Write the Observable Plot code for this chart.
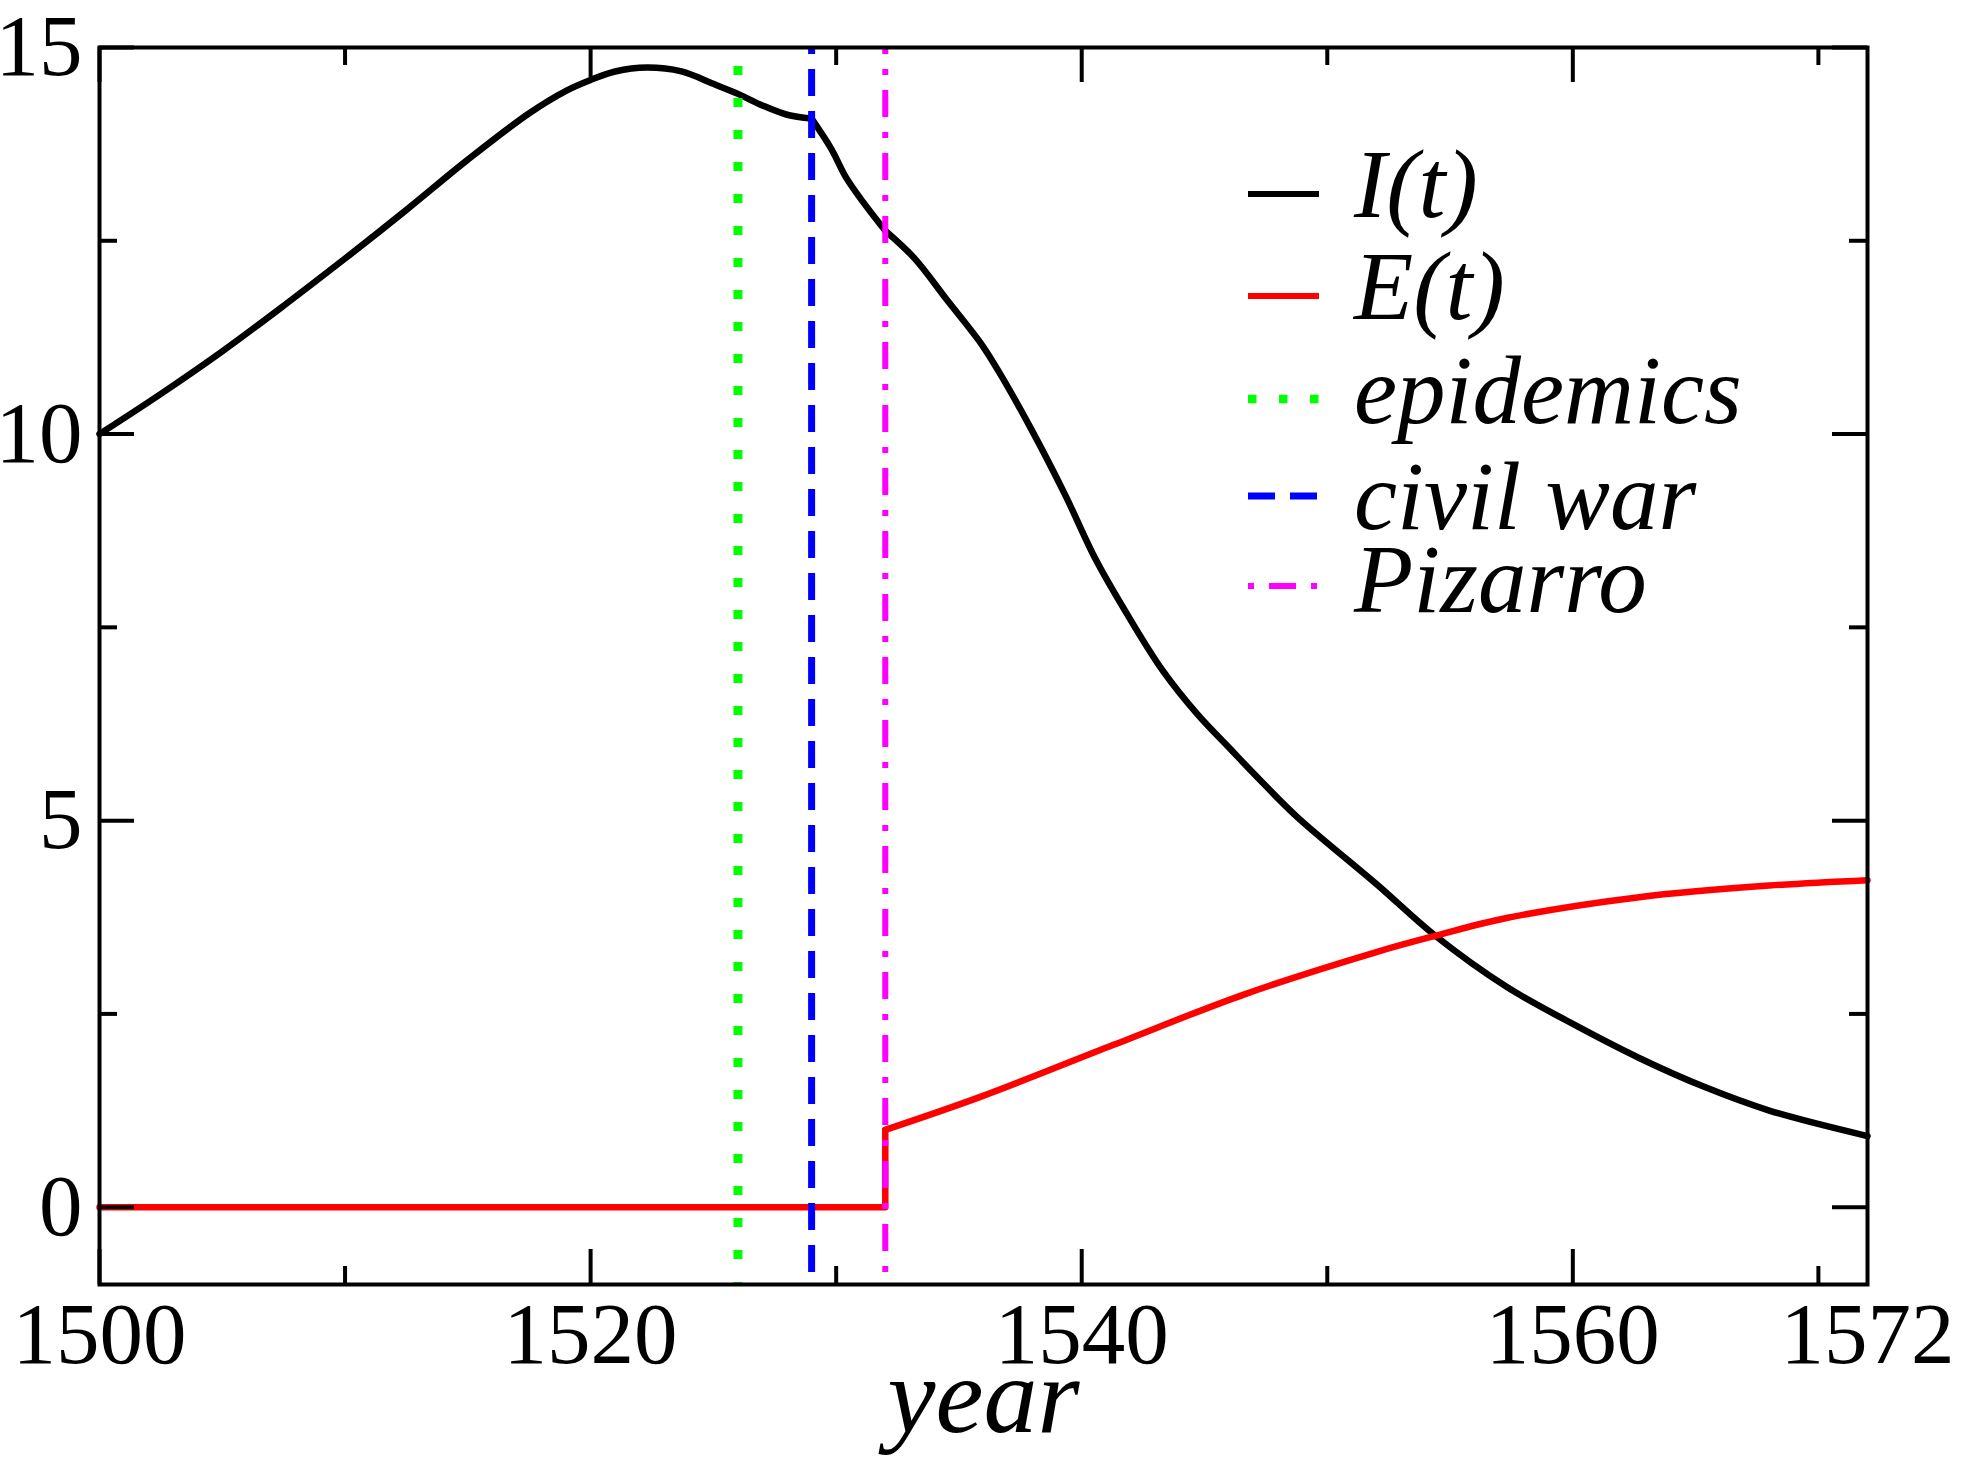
<!DOCTYPE html>
<html>
<head>
<meta charset="utf-8">
<script src="https://cdn.jsdelivr.net/npm/d3@7"></script>
<script src="https://cdn.jsdelivr.net/npm/@observablehq/plot@0.6"></script>
<style>
  body { margin: 0; background: white; }
</style>
</head>
<body>
<div id="chart"></div>
<script>
// I(t)
const iYears = [1500, 1502.5, 1505, 1507.5, 1510, 1512.5, 1515, 1517.5, 1519, 1520, 1521, 1522.3, 1523.7, 1525, 1526, 1527, 1528, 1529, 1529.8, 1530.4, 1531.1, 1532, 1533.2, 1534.5, 1535.9, 1536.6, 1537.9, 1539.3, 1540.6, 1542, 1543.3, 1544.7, 1546.1, 1547.4, 1548.8, 1552, 1554.4, 1557.3, 1560, 1562.7, 1565.4, 1568, 1572]
const iValues = [10.0, 10.52, 11.07, 11.66, 12.27, 12.90, 13.55, 14.15, 14.44, 14.58, 14.69, 14.74, 14.69, 14.53, 14.40, 14.25, 14.13, 14.08, 13.69, 13.32, 13.00, 12.63, 12.27, 11.74, 11.17, 10.82, 10.09, 9.23, 8.36, 7.59, 6.94, 6.38, 5.91, 5.48, 5.04, 4.18, 3.51, 2.85, 2.37, 1.93, 1.55, 1.25, 0.92]

// E(t): cero hasta 1532, salto y subida
const eYears = [1500, 1532, 1532, 1535.9, 1541.3, 1546.6, 1552, 1554.4, 1557.3, 1562.7, 1568, 1572]
const eValues = [0, 0, 1.0, 1.43, 2.10, 2.75, 3.30, 3.51, 3.74, 4.01, 4.16, 4.23]

// eventos (lineas verticales)
const eventNames = ['epidemics', 'civil war', 'Pizarro']
const eventYears = [1526, 1529, 1532]

// ticks
const xMajor = [1500, 1520, 1540, 1560]
const xMinor = [1510, 1530, 1550, 1570]
const xLabels = [1500, 1520, 1540, 1560, 1572]
const yMajor = [0, 5, 10, 15]
const yMinor = [2.5, 7.5, 12.5]

const legendNames = ['I(t)', 'E(t)', 'epidemics', 'civil war', 'Pizarro']

// estilos
const eventStyle = {
  'epidemics': {stroke: '#00ff00', strokeWidth: 9, dash: '9,23', offset: 13, legendDash: '8.5,22.5'},
  'civil war': {stroke: '#0000ff', strokeWidth: 7, dash: '27,15', offset: 20, legendDash: '27,15'},
  'Pizarro': {stroke: '#ff00ff', strokeWidth: 6, dash: '27,15,6,15', offset: 20, legendDash: '6,15,27,15'},
}
const legendStyle = {
  'I(t)': {stroke: 'black', strokeWidth: 6, dash: null, lineY: 194, textY: 217},
  'E(t)': {stroke: '#ff0000', strokeWidth: 6, dash: null, lineY: 296, textY: 319},
  'epidemics': {stroke: '#00ff00', strokeWidth: 8.5, dash: eventStyle['epidemics'].legendDash, lineY: 399, textY: 423},
  'civil war': {stroke: '#0000ff', strokeWidth: 7, dash: eventStyle['civil war'].legendDash, lineY: 496, textY: 529},
  'Pizarro': {stroke: '#ff00ff', strokeWidth: 6, dash: eventStyle['Pizarro'].legendDash, lineY: 586, textY: 612},
}

const iRows = iYears.map((year, i) => ({year, value: iValues[i]}))
// la curva I(t) tiene quiebres en la guerra civil y en la llegada de Pizarro
const [kink1, kink2] = [eventYears[1], eventYears[2]]
const iSeg1 = iRows.filter(d => d.year <= kink1)
const iSeg2 = iRows.filter(d => d.year >= kink1 && d.year <= kink2)
const iSeg3 = iRows.filter(d => d.year >= kink2)

const eRows = eYears.map((year, i) => ({year, value: eValues[i]}))
const eStep = eRows.slice(0, 3)
const eRise = eRows.slice(2)

const W = 1964, H = 1465
const mL = 99, mR = 97, mT = 47, mB = 181
const frameW = W - mL - mR
const frameH = H - mT - mB
const major = 35, minor = 18

const eventMarks = eventNames.map((name, i) => {
  const s = eventStyle[name]
  return Plot.ruleX([eventYears[i]], {
    x: d => d,
    stroke: s.stroke,
    strokeWidth: s.strokeWidth,
    strokeDasharray: s.dash,
    strokeDashoffset: s.offset,
  })
})

const tickStyle = {stroke: 'black', strokeWidth: 4}
const iStyle = {x: 'year', y: 'value', stroke: 'black', strokeWidth: 6.5, curve: 'catmull-rom'}

let chart = Plot.plot({
  width: W,
  height: H,
  marginLeft: mL,
  marginRight: mR,
  marginTop: mT,
  marginBottom: mB,
  style: {fontFamily: 'Liberation Serif', background: 'white', overflow: 'visible'},
  x: {domain: [1500, 1572], axis: null},
  y: {domain: [-1, 15], axis: null},
  marks: [
    Plot.line(iSeg1, iStyle),
    Plot.line(iSeg2, iStyle),
    Plot.line(iSeg3, iStyle),
    Plot.line(eStep, {x: 'year', y: 'value', stroke: '#ff0000', strokeWidth: 6.5}),
    Plot.line(eRise, {x: 'year', y: 'value', stroke: '#ff0000', strokeWidth: 6.5, curve: 'catmull-rom'}),
    ...eventMarks,
    Plot.frame({stroke: 'black', strokeWidth: 4}),
    // ticks hacia adentro, en los cuatro lados
    Plot.tickX(xMajor, {x: d => d, ...tickStyle, insetTop: frameH - major}),
    Plot.tickX(xMajor, {x: d => d, ...tickStyle, insetBottom: frameH - major}),
    Plot.tickX(xMinor, {x: d => d, ...tickStyle, insetTop: frameH - minor}),
    Plot.tickX(xMinor, {x: d => d, ...tickStyle, insetBottom: frameH - minor}),
    Plot.tickY(yMajor, {y: d => d, ...tickStyle, insetRight: frameW - major}),
    Plot.tickY(yMajor, {y: d => d, ...tickStyle, insetLeft: frameW - major}),
    Plot.tickY(yMinor, {y: d => d, ...tickStyle, insetRight: frameW - minor}),
    Plot.tickY(yMinor, {y: d => d, ...tickStyle, insetLeft: frameW - minor}),
    Plot.axisX(xLabels, {tickSize: 0, tickPadding: 17, fontSize: 87, tickFormat: d => String(d), label: null}),
    Plot.axisY(yMajor, {tickSize: 0, tickPadding: 17, fontSize: 87, tickFormat: d => String(d), label: null}),
    Plot.text(['year'], {text: d => d, frameAnchor: 'bottom', dy: 71, lineAnchor: 'top', fontSize: 108, fontStyle: 'italic'}),
  ],
})

// leyenda
const legend = d3.select(chart).append('g')
  .attr('text-anchor', 'start')
legendNames.forEach(name => {
  const s = legendStyle[name]
  legend.append('line')
    .attr('x1', 1248).attr('x2', 1319)
    .attr('y1', s.lineY).attr('y2', s.lineY)
    .attr('stroke', s.stroke)
    .attr('stroke-width', s.strokeWidth)
    .attr('stroke-dasharray', s.dash)
  legend.append('text')
    .attr('x', 1354).attr('y', s.textY)
    .attr('text-anchor', 'start')
    .attr('font-family', 'Liberation Serif')
    .attr('font-style', 'italic')
    .attr('font-size', 97)
    .attr('fill', 'black')
    .text(name)
})

d3.select('#chart').append(() => chart)
</script>
</body>
</html>
